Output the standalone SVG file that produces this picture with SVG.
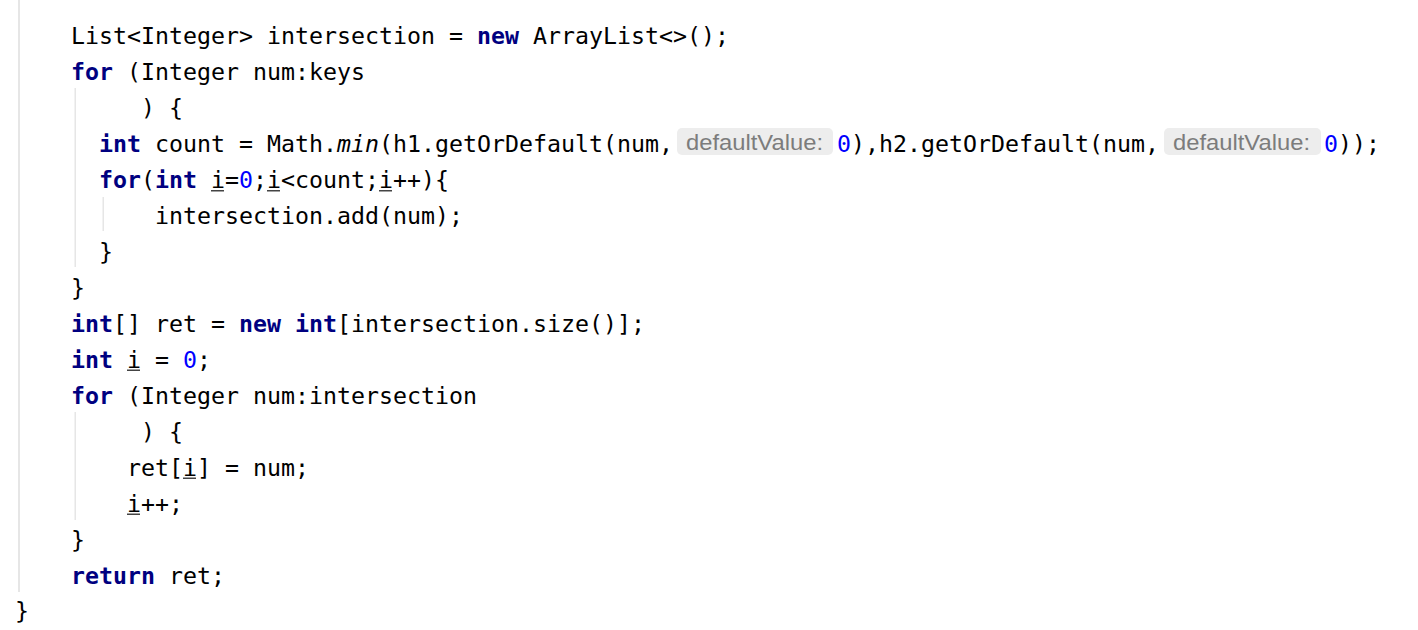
<svg xmlns="http://www.w3.org/2000/svg" width="1418" height="630" viewBox="0 0 1418 630">
<style>
.c{font-family:"DejaVu Sans Mono","Liberation Mono",monospace;font-size:23.25px;fill:#000000;}
.k{font-weight:bold;fill:#000080;}
.n{fill:#0000ff;}
.it{font-style:italic;}
.hint{font-family:"Liberation Sans","DejaVu Sans",sans-serif;font-size:22px;fill:#7c7c7c;}
.hbox{fill:#ededed;}
.g{fill:#e6e6e6;}
.u{fill:#444444;}
</style>
<rect x="0" y="0" width="1418" height="630" fill="#ffffff"/>
<g id="guides">
<rect class="g" x="18" y="0" width="2" height="592"/>
<rect class="g" x="74.5" y="88" width="1.5" height="179"/>
<rect class="g" x="102.5" y="197" width="1.5" height="34"/>
<rect class="g" x="74.5" y="412" width="1.5" height="108"/>
</g>
<g id="code" xml:space="preserve">
<text id="l1" class="c" x="71" y="44">List&lt;Integer&gt; intersection = <tspan class="k">new</tspan> ArrayList&lt;&gt;();</text>
<text id="l2" class="c" x="71" y="80"><tspan class="k">for</tspan> (Integer num:keys</text>
<text id="l3" class="c" x="141" y="116">) {</text>
<g id="l4">
<text class="c" x="99" y="152"><tspan class="k">int</tspan> count = Math.<tspan class="it">min</tspan>(h1.getOrDefault(num,</text>
<rect class="hbox" x="677" y="128" width="156" height="27" rx="5"/>
<text class="hint" x="686" y="150" textLength="137" lengthAdjust="spacingAndGlyphs">defaultValue:</text>
<text class="c" x="837" y="152"><tspan class="n">0</tspan>),h2.getOrDefault(num,</text>
<rect class="hbox" x="1164" y="128" width="157" height="27" rx="5"/>
<text class="hint" x="1173" y="150" textLength="137" lengthAdjust="spacingAndGlyphs">defaultValue:</text>
<text class="c" x="1324" y="152"><tspan class="n">0</tspan>));</text>
</g>
<text id="l5" class="c" x="99" y="188"><tspan class="k">for</tspan>(<tspan class="k">int</tspan> i=<tspan class="n">0</tspan>;i&lt;count;i++){</text>
<text id="l6" class="c" x="155" y="224">intersection.add(num);</text>
<text id="l7" class="c" x="99" y="260">}</text>
<text id="l8" class="c" x="71" y="296">}</text>
<text id="l9" class="c" x="71" y="332"><tspan class="k">int</tspan>[] ret = <tspan class="k">new</tspan> <tspan class="k">int</tspan>[intersection.size()];</text>
<text id="l10" class="c" x="71" y="367.5"><tspan class="k">int</tspan> i = <tspan class="n">0</tspan>;</text>
<text id="l11" class="c" x="71" y="403.5"><tspan class="k">for</tspan> (Integer num:intersection</text>
<text id="l12" class="c" x="141" y="439.5">) {</text>
<text id="l13" class="c" x="127" y="475.5">ret[i] = num;</text>
<text id="l14" class="c" x="127" y="511.5">i++;</text>
<text id="l15" class="c" x="71" y="547.5">}</text>
<text id="l16" class="c" x="71" y="583.5"><tspan class="k">return</tspan> ret;</text>
<text id="l17" class="c" x="15" y="619">}</text>
</g>
<g id="underlines">
<rect class="u" x="211" y="190" width="13" height="1.5"/>
<rect class="u" x="267" y="190" width="13" height="1.5"/>
<rect class="u" x="379" y="190" width="13" height="1.5"/>
<rect class="u" x="127" y="369.5" width="13" height="1.5"/>
<rect class="u" x="183" y="477.5" width="13" height="1.5"/>
<rect class="u" x="127" y="513.5" width="13" height="1.5"/>
</g>
</svg>
